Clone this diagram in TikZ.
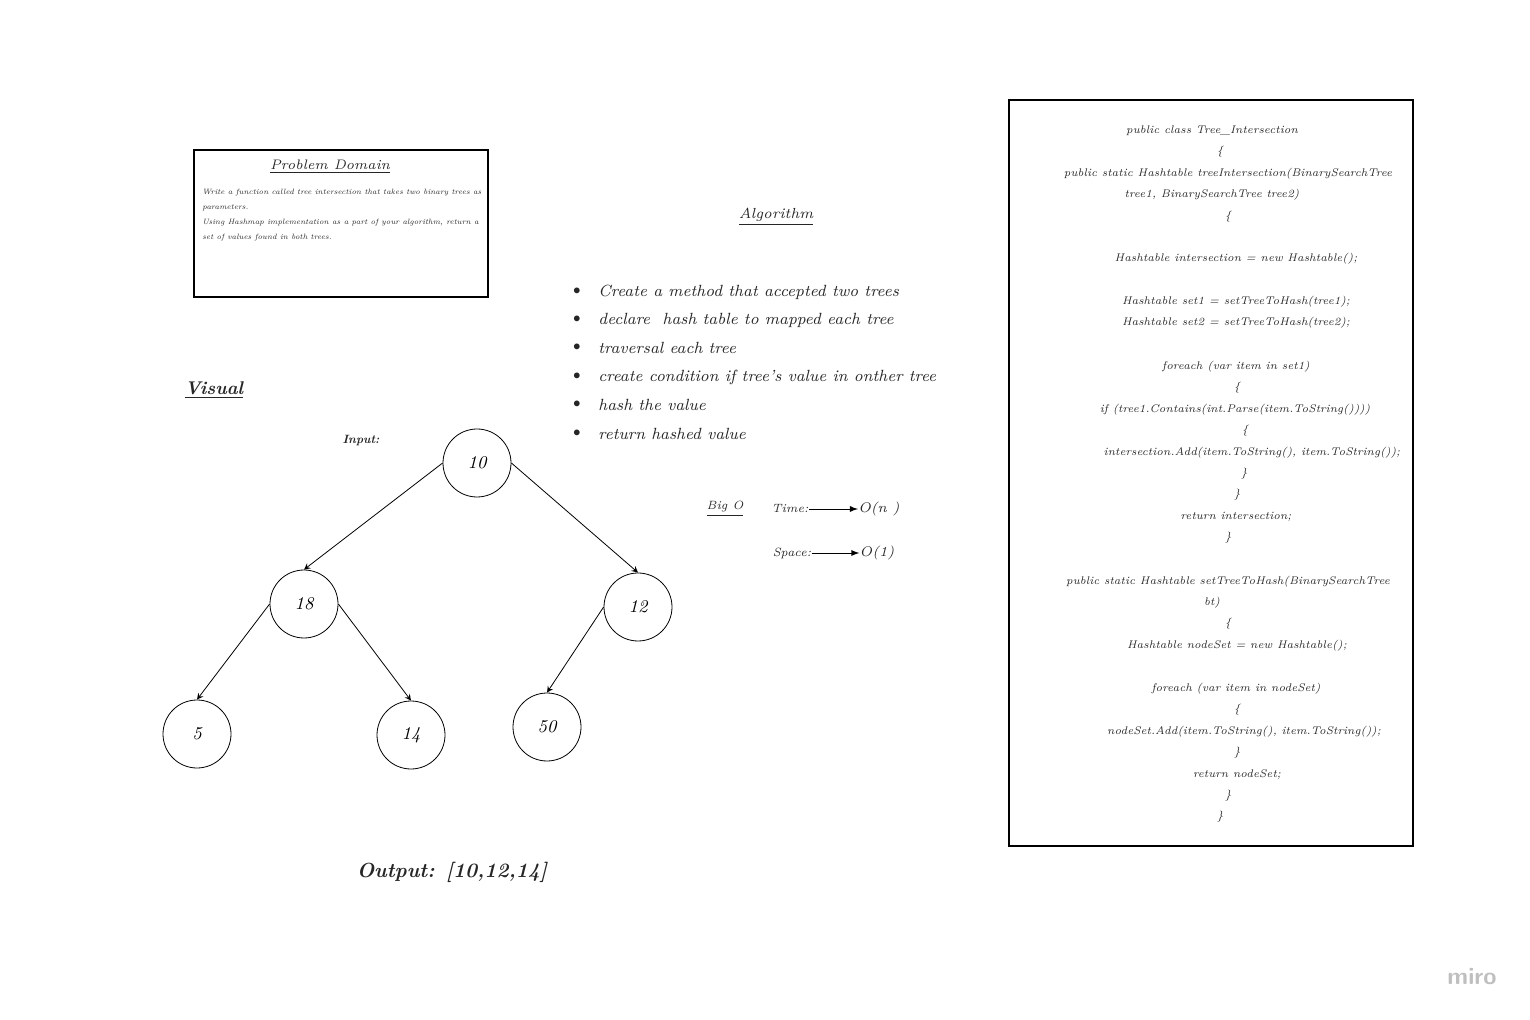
\documentclass[tikz,border=0pt]{standalone}
\usetikzlibrary{arrows,positioning}
\begin{document}
\begin{tikzpicture}[x=0.5pt,y=-0.5pt,>=stealth]
\tikzstyle{v}=[circle,draw,minimum size=34pt,inner sep=0pt,font=\itshape\fontsize{9}{9}\selectfont]
\tikzstyle{txt}=[inner sep=0pt,text=black!85]
\tikzstyle{code}=[inner sep=0pt,text=black!85,font=\itshape\fontsize{5.55}{7}\selectfont]
\tikzstyle{alg}=[anchor=west,inner sep=0pt,text=black!85,font=\itshape\fontsize{8.1}{10}\selectfont]
\useasboundingbox (0,0) rectangle (1530,1020);

% problem domain
\node[draw,thick,minimum width=147pt,minimum height=73.5pt] (pd) at (341,223.5) {};
\node[txt,font=\itshape\fontsize{6.9}{8}\selectfont] (pdtitle) at (330,167) {\underline{Problem Domain}};
\node[txt,anchor=north west,align=left,font=\itshape\fontsize{3.85}{7.5}\selectfont] (pdtext) at (202,189)
  {Write a function called tree intersection that takes two binary trees as\\
   parameters.\\
   Using Hashmap implementation as a part of your algorithm, return a\\
   set of values found in both trees.};

% algorithm
\node[txt,font=\itshape\fontsize{7.3}{8}\selectfont] (algtitle) at (776,217) {\underline{Algorithm}};
\node[txt] (b1) at (577,292) {\textbullet};
\node[txt] (b2) at (577,320) {\textbullet};
\node[txt] (b3) at (577,348) {\textbullet};
\node[txt] (b4) at (577,377) {\textbullet};
\node[txt] (b5) at (577,405) {\textbullet};
\node[txt] (b6) at (577,434) {\textbullet};
\node[alg] (a1) at (598,292) {Create a method that accepted two trees};
\node[alg] (a2) at (598,320) {declare\ \ hash table to mapped each tree};
\node[alg] (a3) at (598,348) {traversal each tree};
\node[alg] (a4) at (598,377) {create condition if tree's value in onther tree};
\node[alg] (a5) at (598,405) {hash the value};
\node[alg] (a6) at (598,434) {return hashed value};

% visual
\node[txt,font=\bfseries\itshape\fontsize{9.2}{11}\selectfont] (visual) at (214,390) {\underline{Visual}};
\node[txt,font=\bfseries\itshape\fontsize{6}{7}\selectfont] (input) at (361,441) {Input:};

% tree
\node[v] (n10) at (477,463) {10};
\node[v] (n18) at (304,604) {18};
\node[v] (n12) at (638,607) {12};
\node[v] (n5) at (197,734) {5};
\node[v] (n14) at (411,735) {14};
\node[v] (n50) at (547,727) {50};
\draw[->] (n10.west) -- (n18.north);
\draw[->] (n10.east) -- (n12.north);
\draw[->] (n18.west) -- (n5.north);
\draw[->] (n18.east) -- (n14.north);
\draw[->] (n12.west) -- (n50.north);

% big O
\node[txt,font=\itshape\fontsize{6}{7}\selectfont] (bigo) at (725,509) {\underline{Big O}};
\node[txt,font=\itshape\fontsize{6}{7}\selectfont] (time) at (790,509) {Time:};
\node[txt,font=\itshape\fontsize{7}{8}\selectfont] (on) at (879,509) {O(n )};
\node[txt,font=\itshape\fontsize{6}{7}\selectfont] (space) at (792,553) {Space:};
\node[txt,font=\itshape\fontsize{7}{8}\selectfont] (o1) at (877,553) {O(1)};
\draw[->,>=latex,thin] (time) -- (on);
\draw[->,>=latex,thin] (space) -- (o1);

% output
\node[txt,font=\bfseries\itshape\fontsize{10.2}{12}\selectfont] (output) at (452,872) {Output: [10,12,14]};

% code
\node[draw,thick,minimum width=202pt,minimum height=373pt] (codebox) at (1211,473) {};
\node[code] (c1) at (1212,131) {public class Tree\_Intersection};
\node[code] (c2) at (1220,152) {\{};
\node[code] (c3) at (1228,174) {public static Hashtable treeIntersection(BinarySearchTree};
\node[code] (c4) at (1212,195) {tree1, BinarySearchTree tree2)};
\node[code] (c5) at (1228,217) {\{};
\node[code] (c6) at (1236,259) {Hashtable intersection = new Hashtable();};
\node[code] (c7) at (1236,302) {Hashtable set1 = setTreeToHash(tree1);};
\node[code] (c8) at (1236,323) {Hashtable set2 = setTreeToHash(tree2);};
\node[code] (c9) at (1236,367) {foreach (var item in set1)};
\node[code] (c10) at (1237,388) {\{};
\node[code] (c11) at (1235,410) {if (tree1.Contains(int.Parse(item.ToString())))};
\node[code] (c12) at (1245,431) {\{};
\node[code] (c13) at (1252,453) {intersection.Add(item.ToString(), item.ToString());};
\node[code] (c14) at (1244,474) {\}};
\node[code] (c15) at (1237,495) {\}};
\node[code] (c16) at (1236,517) {return intersection;};
\node[code] (c17) at (1228,538) {\}};
\node[code] (c18) at (1228,582) {public static Hashtable setTreeToHash(BinarySearchTree};
\node[code] (c19) at (1212,603) {bt)};
\node[code] (c20) at (1228,624) {\{};
\node[code] (c21) at (1237,646) {Hashtable nodeSet = new Hashtable();};
\node[code] (c22) at (1236,689) {foreach (var item in nodeSet)};
\node[code] (c23) at (1237,710) {\{};
\node[code] (c24) at (1244,732) {nodeSet.Add(item.ToString(), item.ToString());};
\node[code] (c25) at (1237,753) {\}};
\node[code] (c26) at (1237,775) {return nodeSet;};
\node[code] (c27) at (1228,796) {\}};
\node[code] (c28) at (1220,817) {\}};

% watermark
\node[txt,text=black!25,font=\sffamily\bfseries\fontsize{12}{12}\selectfont] (miro) at (1472,977) {miro};
\end{tikzpicture}
\end{document}
